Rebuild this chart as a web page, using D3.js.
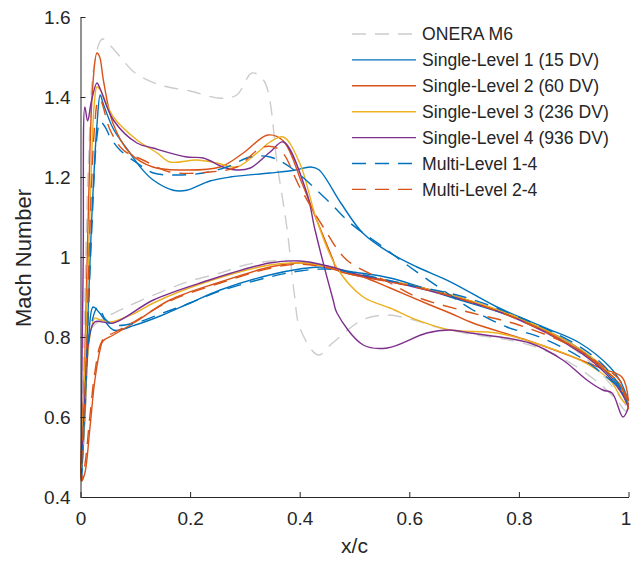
<!DOCTYPE html>
<html><head><meta charset="utf-8">
<script src="https://cdn.jsdelivr.net/npm/d3@7"></script>
<style>
body{margin:0;background:#fff;}
text{font-family:"Liberation Sans",Arial,Helvetica,sans-serif;fill:#262626;}
</style>
</head><body>
<svg id="chart" width="631" height="561"></svg>
<script>
// ---------- data (x/c, Mach) ----------
const seriesNames = ["ONERA M6","Single-Level 1 (15 DV)","Single-Level 2 (60 DV)","Single-Level 3 (236 DV)","Single-Level 4 (936 DV)","Multi-Level 1-4","Multi-Level 2-4"];

const oneraUpper = [[0.002,0.50],[0.008,0.90],[0.015,1.25],[0.025,1.48],[0.04,1.545],[0.06,1.52],[0.1,1.46],[0.145,1.43],[0.2,1.415],[0.255,1.397],[0.285,1.405],[0.313,1.46],[0.335,1.44],[0.36,1.22],[0.377,1.07],[0.39,0.91],[0.401,0.82],[0.434,0.755],[0.46,0.785],[0.515,0.843],[0.56,0.855],[0.607,0.843],[0.65,0.825],[0.7,0.81],[0.8,0.787],[0.85,0.765],[0.9,0.73],[0.95,0.68],[0.98,0.64],[0.995,0.615],[1.0,0.62]];
const oneraLower = [[0.002,0.50],[0.008,0.70],[0.02,0.82],[0.04,0.845],[0.072,0.867],[0.1,0.885],[0.164,0.922],[0.2,0.94],[0.255,0.96],[0.3,0.98],[0.35,0.99],[0.4,0.99],[0.45,0.975],[0.5,0.955],[0.6,0.93],[0.7,0.895],[0.8,0.845],[0.85,0.81],[0.9,0.77],[0.95,0.71],[1.0,0.62]];

const sl1Upper = [[0.002,0.45],[0.01,0.72],[0.02,1.08],[0.03,1.33],[0.036,1.405],[0.041,1.385],[0.06,1.32],[0.085,1.27],[0.109,1.225],[0.132,1.193],[0.169,1.167],[0.194,1.167],[0.236,1.19],[0.273,1.2],[0.346,1.21],[0.39,1.217],[0.42,1.225],[0.435,1.218],[0.475,1.135],[0.515,1.06],[0.565,1.01],[0.614,0.975],[0.675,0.938],[0.76,0.875],[0.844,0.825],[0.911,0.785],[0.966,0.725],[0.985,0.69],[1.0,0.64]];
const sl1Lower = [[0.002,0.45],[0.008,0.60],[0.015,0.80],[0.023,0.875],[0.035,0.86],[0.06,0.8175],[0.1,0.83],[0.15,0.855],[0.2,0.885],[0.255,0.9175],[0.345,0.955],[0.4,0.97],[0.44,0.975],[0.5,0.962],[0.565,0.9475],[0.675,0.90],[0.8,0.845],[0.9,0.78],[0.95,0.725],[0.98,0.68],[1.0,0.63]];

const sl2Upper = [[0.002,0.44],[0.008,0.75],[0.015,1.15],[0.022,1.42],[0.03,1.51],[0.035,1.50],[0.042,1.44],[0.059,1.335],[0.09,1.26],[0.132,1.225],[0.182,1.2175],[0.255,1.225],[0.297,1.26],[0.342,1.305],[0.37,1.29],[0.404,1.185],[0.431,1.0925],[0.461,0.9925],[0.468,0.9675],[0.516,0.95],[0.565,0.9225],[0.638,0.88],[0.674,0.86],[0.716,0.835],[0.808,0.795],[0.88,0.76],[0.953,0.72],[0.988,0.70],[1.0,0.64]];
const sl2Lower = [[0.002,0.44],[0.008,0.46],[0.017,0.57],[0.026,0.69],[0.036,0.77],[0.041,0.79],[0.06,0.805],[0.1,0.8375],[0.163,0.8925],[0.255,0.9375],[0.346,0.975],[0.4,0.985],[0.45,0.975],[0.5,0.955],[0.6,0.93],[0.7,0.895],[0.8,0.845],[0.9,0.775],[0.95,0.725],[0.985,0.68],[1.0,0.62]];

const sl3Upper = [[0.002,0.47],[0.01,0.80],[0.018,1.15],[0.025,1.38],[0.03,1.425],[0.035,1.42],[0.06,1.35],[0.103,1.2925],[0.14,1.26],[0.163,1.2375],[0.212,1.2425],[0.249,1.235],[0.285,1.225],[0.322,1.26],[0.346,1.2875],[0.37,1.30],[0.40,1.235],[0.431,1.0925],[0.468,0.9725],[0.516,0.90],[0.565,0.8725],[0.614,0.8425],[0.674,0.8175],[0.76,0.81],[0.851,0.775],[0.911,0.7425],[0.966,0.6925],[0.99,0.64],[1.0,0.63]];
const sl3Lower = [[0.002,0.47],[0.008,0.60],[0.015,0.78],[0.026,0.8475],[0.032,0.845],[0.054,0.8375],[0.1,0.86],[0.133,0.885],[0.224,0.935],[0.345,0.98],[0.4,0.985],[0.45,0.975],[0.5,0.958],[0.6,0.93],[0.7,0.895],[0.8,0.848],[0.9,0.78],[0.95,0.73],[0.985,0.675],[1.0,0.625]];

const sl4Upper = [[0.002,0.50],[0.005,1.0],[0.008,1.375],[0.013,1.34],[0.02,1.39],[0.03,1.435],[0.036,1.42],[0.06,1.3425],[0.103,1.285],[0.132,1.2725],[0.194,1.25],[0.224,1.2475],[0.26,1.225],[0.285,1.2175],[0.31,1.2225],[0.346,1.2625],[0.37,1.2875],[0.413,1.16],[0.428,1.0675],[0.461,0.8925],[0.468,0.86],[0.516,0.78],[0.56,0.7725],[0.632,0.81],[0.674,0.8175],[0.711,0.81],[0.82,0.785],[0.88,0.7425],[0.924,0.6925],[0.953,0.6675],[0.97,0.66],[0.99,0.60],[1.0,0.625]];
const sl4Lower = [[0.002,0.50],[0.008,0.65],[0.015,0.79],[0.026,0.8375],[0.06,0.835],[0.133,0.8925],[0.224,0.9375],[0.345,0.985],[0.4,0.99],[0.45,0.978],[0.5,0.958],[0.6,0.928],[0.7,0.892],[0.8,0.843],[0.9,0.772],[0.95,0.72],[0.985,0.665],[1.0,0.625]];

const ml14Upper = [[0.002,0.45],[0.01,0.70],[0.02,1.05],[0.03,1.30],[0.036,1.338],[0.045,1.325],[0.054,1.30],[0.072,1.2675],[0.103,1.235],[0.133,1.21],[0.176,1.205],[0.224,1.21],[0.267,1.225],[0.31,1.25],[0.346,1.25],[0.382,1.225],[0.45,1.1425],[0.492,1.085],[0.552,1.025],[0.601,0.975],[0.661,0.9175],[0.716,0.8675],[0.778,0.825],[0.838,0.80],[0.911,0.75],[0.96,0.70],[0.985,0.67],[1.0,0.63]];
const ml14Lower = [[0.002,0.45],[0.008,0.62],[0.018,0.82],[0.032,0.875],[0.045,0.845],[0.06,0.83],[0.1,0.835],[0.15,0.86],[0.2,0.885],[0.255,0.915],[0.345,0.95],[0.4,0.965],[0.45,0.97],[0.5,0.96],[0.6,0.93],[0.7,0.90],[0.8,0.85],[0.9,0.785],[0.95,0.735],[0.98,0.685],[1.0,0.63]];

const ml24Upper = [[0.002,0.44],[0.01,0.72],[0.018,1.10],[0.026,1.33],[0.032,1.39],[0.036,1.3925],[0.054,1.3175],[0.078,1.2675],[0.114,1.2425],[0.163,1.2125],[0.236,1.2125],[0.285,1.225],[0.333,1.275],[0.364,1.2675],[0.40,1.175],[0.443,1.075],[0.486,0.9925],[0.565,0.935],[0.614,0.90],[0.70,0.865],[0.80,0.83],[0.90,0.775],[0.95,0.73],[0.985,0.69],[1.0,0.63]];
const ml24Lower = [[0.002,0.44],[0.008,0.48],[0.017,0.60],[0.026,0.71],[0.036,0.78],[0.045,0.80],[0.06,0.81],[0.1,0.84],[0.163,0.89],[0.255,0.935],[0.346,0.972],[0.4,0.982],[0.45,0.973],[0.5,0.955],[0.6,0.928],[0.7,0.893],[0.8,0.843],[0.9,0.775],[0.95,0.725],[0.985,0.68],[1.0,0.62]];

const xTicks = [0, 0.2, 0.4, 0.6, 0.8, 1];
const xTickLabels = ["0","0.2","0.4","0.6","0.8","1"];
const yTicks = [0.4, 0.6, 0.8, 1, 1.2, 1.4, 1.6];
const yTickLabels = ["0.4","0.6","0.8","1","1.2","1.4","1.6"];

// ---------- build ----------
const surfaces = [
  [oneraUpper, oneraLower], [sl1Upper, sl1Lower], [sl2Upper, sl2Lower],
  [sl3Upper, sl3Lower], [sl4Upper, sl4Lower], [ml14Upper, ml14Lower], [ml24Upper, ml24Lower]
];
const styles = [
  {color:"#cccccc", dash:"14,9"},
  {color:"#0072BD", dash:null},
  {color:"#D95319", dash:null},
  {color:"#EDB120", dash:null},
  {color:"#7E2F8E", dash:null},
  {color:"#0072BD", dash:"14,9"},
  {color:"#D95319", dash:"14,9"}
];
const series = seriesNames.map((name,i)=>({
  name, style: styles[i],
  points: surfaces[i][0].slice().reverse().concat(surfaces[i][1].slice(1))
}));

const svg = d3.select("#chart");
const x = d3.scaleLinear().domain([0,1]).range([80.5,628.5]);
const y = d3.scaleLinear().domain([0.4,1.6]).range([497,17]);

const line = d3.line().x(d=>x(d[0])).y(d=>y(d[1])).curve(d3.curveCatmullRom.alpha(0.5));

svg.append("g").selectAll("path").data(series).join("path")
  .attr("d", d=>line(d.points))
  .attr("fill","none")
  .attr("stroke", d=>d.style.color)
  .attr("stroke-width",1.4)
  .attr("stroke-linejoin","round")
  .attr("stroke-dasharray", d=>d.style.dash);

// axes
const xAxis = svg.append("g").attr("transform","translate(0,497)")
  .call(d3.axisBottom(x).tickValues(xTicks).tickFormat((d,i)=>xTickLabels[i])
    .tickSizeInner(-5).tickSizeOuter(0).tickPadding(15));
const yAxis = svg.append("g").attr("transform","translate(80.5,0)")
  .call(d3.axisLeft(y).tickValues(yTicks).tickFormat((d,i)=>yTickLabels[i])
    .tickSizeInner(-5).tickSizeOuter(0).tickPadding(10));
[xAxis,yAxis].forEach(a=>{
  a.selectAll(".domain").attr("stroke","#262626").attr("stroke-width",1);
  a.selectAll(".tick line").attr("stroke","#262626").attr("stroke-width",1);
  a.selectAll(".tick text").attr("font-size",19).attr("font-family","Liberation Sans, Arial, sans-serif").attr("fill","#262626");
});
// keep the last x label inside the canvas, as in the reference
xAxis.selectAll(".tick text").filter((d,i)=>i===xTicks.length-1).attr("dx",-3);

svg.append("text").attr("x",354.5).attr("y",553).attr("text-anchor","middle")
  .attr("font-size",21).text("x/c");
svg.append("text").attr("transform","translate(31,258) rotate(-90)").attr("text-anchor","middle")
  .attr("font-size",22).text("Mach Number");

// legend
const leg = svg.append("g");
series.forEach((s,i)=>{
  const cy = 34 + i*25.9;
  leg.append("line").attr("x1",352).attr("x2",416).attr("y1",cy).attr("y2",cy)
    .attr("stroke",s.style.color).attr("stroke-width",1.4)
    .attr("stroke-dasharray",s.style.dash);
  leg.append("text").attr("x",422).attr("y",cy).attr("dy","0.35em")
    .attr("font-size",17.6).text(s.name);
});
</script>
</body></html>
